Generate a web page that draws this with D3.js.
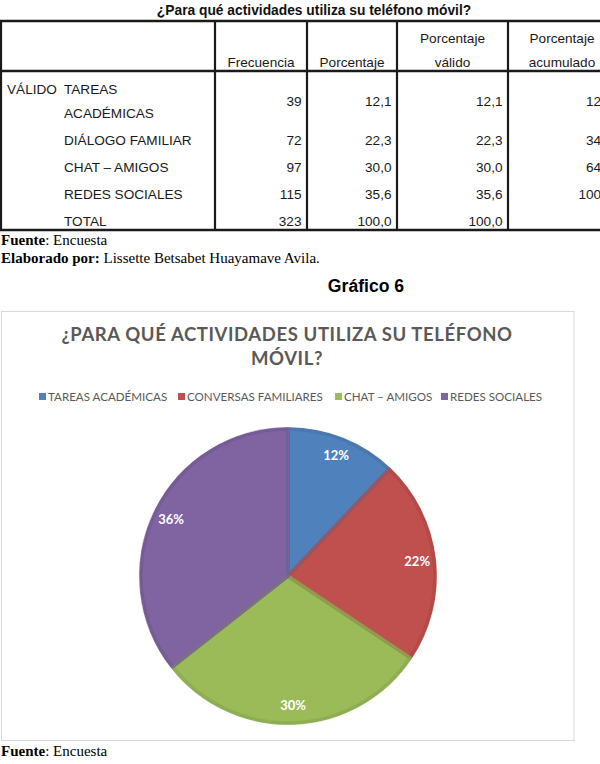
<!DOCTYPE html>
<html><head><meta charset="utf-8">
<script src="https://cdn.jsdelivr.net/npm/d3@7"></script>
<style>
html,body{margin:0;padding:0;background:#fff;overflow:hidden;}
svg{display:block;}
</style></head>
<body>
<svg id="c" width="600" height="764"></svg>
<script>
// ---------- data ----------
const tableTitle = "¿Para qué actividades utiliza su teléfono móvil?";
const headerCols = [["Frecuencia"], ["Porcentaje"], ["Porcentaje", "válido"], ["Porcentaje", "acumulado"]];
const groupLabel = "VÁLIDO";
const rowLabels = [["TAREAS", "ACADÉMICAS"], ["DIÁLOGO FAMILIAR"], ["CHAT – AMIGOS"], ["REDES SOCIALES"], ["TOTAL"]];
const frecuencia = ["39", "72", "97", "115", "323"];
const porcentaje = ["12,1", "22,3", "30,0", "35,6", "100,0"];
const porcentajeValido = ["12,1", "22,3", "30,0", "35,6", "100,0"];
const porcentajeAcumulado = ["12,1", "34,4", "64,4", "100,0", ""];
const figureLabel = "Gráfico 6";
const chartTitle = ["¿PARA QUÉ ACTIVIDADES UTILIZA SU TELÉFONO", "MÓVIL?"];
const categories = ["TAREAS ACADÉMICAS", "CONVERSAS FAMILIARES", "CHAT – AMIGOS", "REDES SOCIALES"];
const values = [39, 72, 97, 115];
const colors = ["#4F81BD", "#C0504D", "#9BBB59", "#8064A2"];
const sourceText = ["Fuente", ": Encuesta"];
const authorText = ["Elaborado por:", " Lissette Betsabet Huayamave Avila."];

// ---------- drawing ----------
const svg = d3.select("#c");
const sans = "'Liberation Sans', Arial, sans-serif";
const serif = "'Liberation Serif', 'Times New Roman', serif";
const calib = "Lato, 'Open Sans', sans-serif";

// table title
svg.append("text").attr("x", 314).attr("y", 15).attr("text-anchor", "middle")
  .style("font-family", sans).style("font-weight", "bold").style("font-size", "13.8px").style("fill", "#111")
  .text(tableTitle);

const colX = [1, 215, 307, 397, 508, 618];
const tTop = 21, tHead = 71, tBot = 230;
const tbl = svg.append("g");
colX.forEach(x => tbl.append("line").attr("x1", x).attr("x2", x).attr("y1", tTop).attr("y2", tBot)
  .attr("stroke", "#1a1a1a").attr("stroke-width", 2.2));
[tTop, tHead, tBot].forEach(y => tbl.append("line").attr("x1", 0).attr("x2", 620).attr("y1", y).attr("y2", y)
  .attr("stroke", "#1a1a1a").attr("stroke-width", 2.4));

const tstyle = s => s.style("font-family", sans).style("font-size", "13.6px").style("fill", "#1a1a1a");
headerCols.forEach((lines, i) => {
  const cx = i === 3 ? 562 : (colX[i + 1] + colX[i + 2]) / 2;
  lines.forEach((t, j) => {
    const y = lines.length === 2 ? (j === 0 ? 43 : 67) : 67;
    tstyle(tbl.append("text").attr("x", cx).attr("y", y).attr("text-anchor", "middle")).text(t);
  });
});
tstyle(tbl.append("text").attr("x", 7).attr("y", 94)).text(groupLabel);

const rowCenter = i => i === 0 ? 101 : 140 + (i - 1) * 27;
const cols = [frecuencia, porcentaje, porcentajeValido, porcentajeAcumulado];
rowLabels.forEach((lines, i) => {
  lines.forEach((t, j) => {
    const y = lines.length === 2 ? (j === 0 ? 94 : 118) : rowCenter(i) + 5;
    tstyle(tbl.append("text").attr("x", 64).attr("y", y)).text(t);
  });
  cols.forEach((col, k) => {
    tstyle(tbl.append("text").attr("x", colX[k + 2] - 5.5).attr("y", rowCenter(i) + 5)
      .attr("text-anchor", "end")).text(col[i]);
  });
});

// footers
function footer(y, parts) {
  const t = svg.append("text").attr("x", 1).attr("y", y)
    .style("font-family", serif).style("font-size", "15px").style("fill", "#000");
  t.append("tspan").style("font-weight", "bold").text(parts[0]);
  t.append("tspan").text(parts[1]);
}
footer(245, sourceText);
footer(263, authorText);

svg.append("text").attr("x", 366).attr("y", 292).attr("text-anchor", "middle")
  .style("font-family", sans).style("font-weight", "bold").style("font-size", "17.6px").style("fill", "#000")
  .text(figureLabel);

// chart box
svg.append("rect").attr("x", 1.5).attr("y", 311.5).attr("width", 572.5).attr("height", 429)
  .attr("fill", "#fff").attr("stroke", "#D9D9D9").attr("stroke-width", 1);

chartTitle.forEach((t, i) => {
  svg.append("text").attr("x", 287).attr("y", 341 + i * 24).attr("text-anchor", "middle")
    .style("font-family", calib).style("font-weight", "bold").style("font-size", "18.5px")
    .style("fill", "#595959").style("letter-spacing", "0.6px").text(t);
});

// legend
const legendX = [39, 178, 335, 441];
const lg = svg.append("g");
categories.forEach((c, i) => {
  lg.append("rect").attr("x", legendX[i]).attr("y", 393).attr("width", 7).attr("height", 7).attr("fill", colors[i]);
  lg.append("text").attr("x", legendX[i] + 9).attr("y", 400.5)
    .style("font-family", calib).style("font-size", "11.6px").style("fill", "#595959").text(c);
});

// pie
const cx = 288, cy = 576, R = 149;
const pie = d3.pie().sort(null).value(d => d)(values);
const total = d3.sum(values);
const color = d3.scaleOrdinal().domain(categories).range(colors);
const arcFill = d3.arc().innerRadius(0).outerRadius(R);
const arcRim = d3.arc().innerRadius(0).outerRadius(R - 2);
const arcLbl = d3.arc().innerRadius(130).outerRadius(130);
const pg = svg.append("g").attr("transform", `translate(${cx},${cy})`);
pg.selectAll("path.fill").data(pie).join("path").attr("class", "fill")
  .attr("d", arcFill).attr("fill", (d, i) => color(categories[i]))
  .attr("stroke", "#fff").attr("stroke-width", 0.8);
pg.selectAll("path.rim").data(pie).join("path").attr("class", "rim")
  .attr("d", arcRim).attr("fill", "none")
  .attr("stroke", (d, i) => d3.color(color(categories[i])).darker(0.3))
  .attr("stroke-width", 3.5).attr("stroke-linejoin", "round").attr("opacity", 0.75);
pg.selectAll("text").data(pie).join("text")
  .attr("transform", d => `translate(${arcLbl.centroid(d)})`)
  .attr("text-anchor", "middle").attr("dy", "0.35em")
  .style("font-family", calib).style("font-weight", "bold").style("font-size", "13px").style("fill", "#fff")
  .text(d => Math.round(d.value / total * 100) + "%");

// bottom footer
footer(756, sourceText);
footer(774, authorText);
</script>
</body></html>
